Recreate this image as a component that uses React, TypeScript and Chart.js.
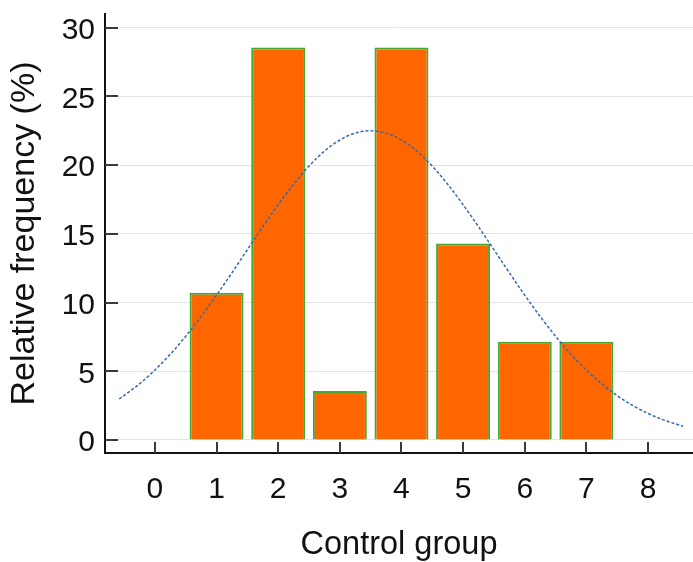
import React, { useEffect, useRef } from 'react';
import { Chart, registerables } from 'chart.js';

Chart.register(...registerables);

// Histogram: score categories and relative frequency (%)
const scores = [1, 2, 3, 4, 5, 6, 7];
const relativeFrequency = [10.71, 28.57, 3.57, 28.57, 14.29, 7.14, 7.14];

// Fitted normal curve
const curveX = [-0.58, -0.25, 0, 0.25, 0.5, 0.75, 1, 1.25, 1.5, 1.75, 2, 2.25, 2.5, 2.75, 3, 3.25, 3.5, 3.75, 4, 4.25, 4.5, 4.75, 5, 5.25, 5.5, 5.75, 6, 6.25, 6.5, 6.75, 7, 7.25, 7.5, 7.75, 8, 8.25, 8.57];
const curveY = [2.98, 4.08, 5.09, 6.24, 7.55, 8.99, 10.54, 12.17, 13.85, 15.52, 17.12, 18.61, 19.93, 21.02, 21.83, 22.33, 22.5, 22.33, 21.83, 21.02, 19.93, 18.61, 17.12, 15.52, 13.85, 12.17, 10.54, 8.99, 7.55, 6.24, 5.09, 4.08, 3.23, 2.51, 1.93, 1.46, 1.0];

const xTickValues = [0, 1, 2, 3, 4, 5, 6, 7, 8];
const yTickValues = [0, 5, 10, 15, 20, 25, 30];
const xTitle = 'Control group';
const yTitle = 'Relative frequency (%)';

const FONT = "'Liberation Sans', Arial, Helvetica, sans-serif";

const innerTicks = {
  id: 'innerTicks',
  afterDraw(chart: any) {
    const { ctx, chartArea, scales } = chart;
    ctx.save();
    ctx.strokeStyle = '#3a3a3a';
    ctx.lineWidth = 2;
    ctx.beginPath();
    for (const v of yTickValues) {
      const y = Math.round(scales.y.getPixelForValue(v));
      ctx.moveTo(chartArea.left, y);
      ctx.lineTo(chartArea.left + 13, y);
    }
    for (const v of xTickValues) {
      const x = Math.round(scales.x.getPixelForValue(v));
      ctx.moveTo(x, chartArea.bottom);
      ctx.lineTo(x, chartArea.bottom - 11);
    }
    ctx.stroke();
    ctx.restore();
  },
};

export default function App() {
  const canvasRef = useRef<HTMLCanvasElement | null>(null);

  useEffect(() => {
    document.body.style.margin = '0';
    const canvas = canvasRef.current;
    if (!canvas) return;
    const chart = new Chart(canvas, {
      type: 'bar',
      data: {
        datasets: [
          {
            type: 'line',
            data: curveX.map((x, i) => ({ x, y: curveY[i] })),
            borderColor: '#3469B0',
            borderWidth: 1.5,
            borderDash: [3, 2],
            pointRadius: 0,
            cubicInterpolationMode: 'monotone',
            fill: false,
            order: 1,
          } as any,
          {
            type: 'bar',
            data: scores.map((x, i) => ({ x, y: relativeFrequency[i] })),
            backgroundColor: '#FF6600',
            borderColor: '#44A832',
            borderWidth: 2,
            barPercentage: 0.876,
            categoryPercentage: 1,
            order: 2,
          } as any,
        ],
      },
      options: {
        animation: false,
        responsive: false,
        devicePixelRatio: 1,
        layout: { padding: { top: 14, right: 0, left: 0, bottom: 0 } },
        plugins: {
          legend: { display: false },
          tooltip: { enabled: false },
        },
        scales: {
          x: {
            type: 'linear',
            offset: false,
            min: -0.81,
            max: 8.73,
            afterBuildTicks: (scale: any) => {
              scale.ticks = xTickValues.map((v) => ({ value: v }));
            },
            afterFit: (scale: any) => {
              scale.height = 109;
              scale.paddingLeft = 0;
              scale.paddingRight = 0;
            },
            ticks: {
              font: { family: FONT, size: 30, lineHeight: 1 },
              color: '#111',
              padding: 21.5,
              maxRotation: 0,
              callback: (v: any) => String(v),
            },
            grid: { display: false, drawTicks: false },
            border: { display: true, color: '#111', width: 2 },
            title: {
              display: true,
              text: xTitle,
              color: '#111',
              font: { family: FONT, size: 32.5, lineHeight: 1 },
              padding: { top: 0, bottom: 1 },
            },
          },
          y: {
            type: 'linear',
            min: -0.95,
            max: 31,
            afterBuildTicks: (scale: any) => {
              scale.ticks = yTickValues.map((v) => ({ value: v }));
            },
            afterFit: (scale: any) => {
              scale.width = 105;
              scale.paddingTop = 0;
              scale.paddingBottom = 0;
            },
            ticks: {
              font: { family: FONT, size: 30, lineHeight: 1 },
              color: '#111',
              padding: 10,
              labelOffset: 3,
              callback: (v: any) => String(v),
            },
            grid: { color: '#e3e3e3', lineWidth: 1, drawTicks: false },
            border: { display: true, color: '#111', width: 2 },
            title: {
              display: true,
              text: yTitle,
              color: '#111',
              font: { family: FONT, size: 34, lineHeight: 1 },
              padding: { top: 8, bottom: 0 },
            },
          },
        },
      } as any,
      plugins: [innerTicks],
    });
    return () => chart.destroy();
  }, []);

  return <canvas ref={canvasRef} width={693} height={562} style={{ display: 'block' }} />;
}
